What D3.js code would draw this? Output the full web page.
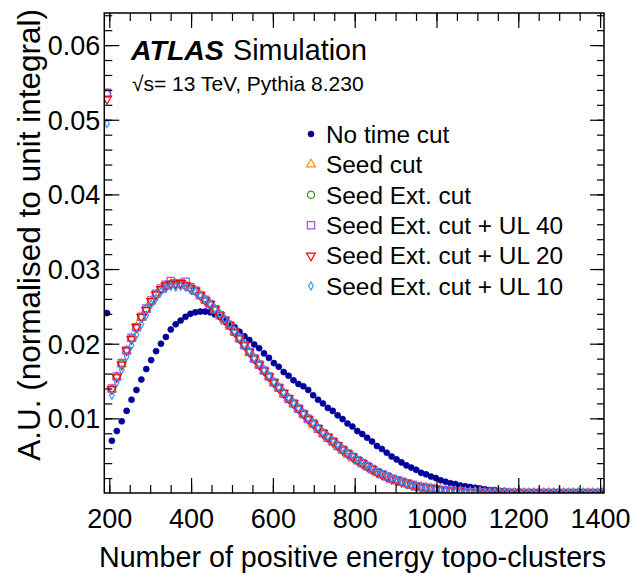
<!DOCTYPE html>
<html>
<head>
<meta charset="utf-8">
<script src="https://cdn.jsdelivr.net/npm/d3@7"></script>
<style>
  html, body { margin: 0; padding: 0; background: #fff; }
  svg { display: block; font-family: "Liberation Sans", Arial, Helvetica, sans-serif; }
</style>
</head>
<body>
<svg id="chart"></svg>
<script>
// ATLAS topo-cluster multiplicity, time-cut comparison

// binning of the histogram (bin centres)
const binStart = 188.4;
const binWidth = 12;

const noTimeCut = [
  0.0241, 0.0070, 0.0083, 0.0096, 0.0110, 0.0125, 0.0138, 0.0152, 0.0166, 0.0178,
  0.0190, 0.0200, 0.0209, 0.0219, 0.0226, 0.0231, 0.0236, 0.0240, 0.0242, 0.0243,
  0.0243, 0.0242, 0.0239, 0.0236, 0.0232, 0.0227, 0.0222, 0.0216, 0.0210, 0.0205,
  0.0199, 0.0194, 0.0187, 0.0181, 0.0174, 0.0169, 0.0162, 0.0157, 0.0151, 0.0146,
  0.0143, 0.0138, 0.0131, 0.0125, 0.0120, 0.0114, 0.0110, 0.0104, 0.0099, 0.0093,
  0.0089, 0.0083, 0.0079, 0.0074, 0.0069, 0.0063, 0.0059, 0.0054, 0.0049, 0.0045,
  0.0041, 0.0037, 0.0034, 0.0031, 0.0027, 0.0025, 0.0022, 0.0020, 0.0017, 0.0015,
  0.0013, 0.0012, 0.0010, 0.0009, 0.0008, 0.0007, 0.0006, 0.0005, 0.0004, 0.0004,
  0.0003, 0.0003, 0.0002, 0.0002, 0.0002, 0.0001, 0.0001, 0.0001, 0.0001, 0.0001,
  0.0001, 0.0000, 0.0000, 0.0000, 0.0000, 0.0000, 0.0000, 0.0000, 0.0000, 0.0000,
  0.0000, 0.0000
];

const seedCut = [
  0.0535, 0.0139, 0.0156, 0.0173, 0.0191, 0.0207, 0.0222, 0.0235, 0.0246, 0.0257,
  0.0266, 0.0273, 0.0277, 0.0280, 0.0280, 0.0280, 0.0278, 0.0275, 0.0270, 0.0265,
  0.0259, 0.0253, 0.0246, 0.0239, 0.0232, 0.0225, 0.0216, 0.0207, 0.0198, 0.0189,
  0.0180, 0.0172, 0.0164, 0.0156, 0.0148, 0.0141, 0.0134, 0.0127, 0.0120, 0.0113,
  0.0106, 0.0099, 0.0093, 0.0087, 0.0080, 0.0075, 0.0069, 0.0064, 0.0058, 0.0053,
  0.0049, 0.0044, 0.0040, 0.0036, 0.0032, 0.0028, 0.0025, 0.0022, 0.0019, 0.0017,
  0.0015, 0.0013, 0.0011, 0.0009, 0.0008, 0.0007, 0.0006, 0.0005, 0.0004, 0.0003,
  0.0003, 0.0002, 0.0002, 0.0001, 0.0001, 0.0001, 0.0001, 0.0000, 0.0000, 0.0000,
  0.0000, 0.0000, 0.0000, 0.0000, 0.0000, 0.0000, 0.0000, 0.0000, 0.0000, 0.0000,
  0.0000, 0.0000, 0.0000, 0.0000, 0.0000, 0.0000, 0.0000, 0.0000, 0.0000, 0.0000,
  0.0000, 0.0000
];

const seedExtCut = [
  0.0535, 0.0139, 0.0155, 0.0173, 0.0190, 0.0207, 0.0221, 0.0235, 0.0246, 0.0256,
  0.0266, 0.0272, 0.0277, 0.0280, 0.0281, 0.0280, 0.0278, 0.0275, 0.0271, 0.0265,
  0.0259, 0.0253, 0.0246, 0.0239, 0.0232, 0.0224, 0.0216, 0.0207, 0.0198, 0.0189,
  0.0181, 0.0172, 0.0164, 0.0156, 0.0148, 0.0141, 0.0134, 0.0127, 0.0120, 0.0113,
  0.0106, 0.0100, 0.0093, 0.0087, 0.0081, 0.0075, 0.0069, 0.0064, 0.0058, 0.0053,
  0.0049, 0.0044, 0.0040, 0.0036, 0.0032, 0.0028, 0.0025, 0.0022, 0.0019, 0.0017,
  0.0015, 0.0013, 0.0011, 0.0009, 0.0008, 0.0007, 0.0006, 0.0005, 0.0004, 0.0003,
  0.0003, 0.0002, 0.0002, 0.0001, 0.0001, 0.0001, 0.0001, 0.0000, 0.0000, 0.0000,
  0.0000, 0.0000, 0.0000, 0.0000, 0.0000, 0.0000, 0.0000, 0.0000, 0.0000, 0.0000,
  0.0000, 0.0000, 0.0000, 0.0000, 0.0000, 0.0000, 0.0000, 0.0000, 0.0000, 0.0000,
  0.0000, 0.0000
];

const seedExtUL40 = [
  0.0536, 0.0140, 0.0156, 0.0174, 0.0191, 0.0208, 0.0222, 0.0236, 0.0247, 0.0258,
  0.0267, 0.0274, 0.0279, 0.0284, 0.0281, 0.0281, 0.0283, 0.0276, 0.0271, 0.0265,
  0.0259, 0.0253, 0.0246, 0.0238, 0.0231, 0.0224, 0.0216, 0.0207, 0.0198, 0.0189,
  0.0180, 0.0172, 0.0164, 0.0156, 0.0148, 0.0141, 0.0133, 0.0126, 0.0120, 0.0113,
  0.0106, 0.0099, 0.0093, 0.0086, 0.0080, 0.0074, 0.0069, 0.0063, 0.0058, 0.0053,
  0.0048, 0.0044, 0.0040, 0.0036, 0.0032, 0.0028, 0.0025, 0.0022, 0.0019, 0.0017,
  0.0015, 0.0013, 0.0011, 0.0009, 0.0008, 0.0007, 0.0006, 0.0005, 0.0004, 0.0003,
  0.0003, 0.0002, 0.0002, 0.0001, 0.0001, 0.0001, 0.0001, 0.0000, 0.0000, 0.0000,
  0.0000, 0.0000, 0.0000, 0.0000, 0.0000, 0.0000, 0.0000, 0.0000, 0.0000, 0.0000,
  0.0000, 0.0000, 0.0000, 0.0000, 0.0000, 0.0000, 0.0000, 0.0000, 0.0000, 0.0000,
  0.0000, 0.0000
];

const seedExtUL20 = [
  0.0528, 0.0139, 0.0155, 0.0172, 0.0191, 0.0206, 0.0222, 0.0236, 0.0245, 0.0257,
  0.0266, 0.0273, 0.0278, 0.0280, 0.0280, 0.0281, 0.0278, 0.0274, 0.0271, 0.0265,
  0.0258, 0.0253, 0.0246, 0.0238, 0.0232, 0.0225, 0.0216, 0.0207, 0.0198, 0.0189,
  0.0180, 0.0172, 0.0164, 0.0156, 0.0148, 0.0141, 0.0134, 0.0127, 0.0120, 0.0113,
  0.0106, 0.0099, 0.0093, 0.0087, 0.0080, 0.0075, 0.0069, 0.0064, 0.0058, 0.0053,
  0.0049, 0.0044, 0.0040, 0.0036, 0.0032, 0.0028, 0.0025, 0.0022, 0.0019, 0.0017,
  0.0015, 0.0013, 0.0011, 0.0009, 0.0008, 0.0007, 0.0006, 0.0005, 0.0004, 0.0003,
  0.0003, 0.0002, 0.0002, 0.0001, 0.0001, 0.0001, 0.0001, 0.0000, 0.0000, 0.0000,
  0.0000, 0.0000, 0.0000, 0.0000, 0.0000, 0.0000, 0.0000, 0.0000, 0.0000, 0.0000,
  0.0000, 0.0000, 0.0000, 0.0000, 0.0000, 0.0000, 0.0000, 0.0000, 0.0000, 0.0000,
  0.0000, 0.0000
];

const seedExtUL10 = [
  0.0495, 0.0131, 0.0148, 0.0165, 0.0183, 0.0198, 0.0212, 0.0226, 0.0238, 0.0253,
  0.0261, 0.0270, 0.0274, 0.0277, 0.0276, 0.0277, 0.0276, 0.0273, 0.0270, 0.0265,
  0.0259, 0.0254, 0.0247, 0.0240, 0.0233, 0.0226, 0.0217, 0.0208, 0.0199, 0.0190,
  0.0181, 0.0173, 0.0165, 0.0157, 0.0149, 0.0142, 0.0135, 0.0128, 0.0121, 0.0114,
  0.0107, 0.0100, 0.0094, 0.0088, 0.0081, 0.0076, 0.0070, 0.0065, 0.0059, 0.0054,
  0.0050, 0.0045, 0.0041, 0.0037, 0.0033, 0.0029, 0.0026, 0.0023, 0.0020, 0.0018,
  0.0015, 0.0013, 0.0011, 0.0010, 0.0008, 0.0007, 0.0006, 0.0005, 0.0004, 0.0003,
  0.0003, 0.0002, 0.0002, 0.0001, 0.0001, 0.0001, 0.0001, 0.0000, 0.0000, 0.0000,
  0.0000, 0.0000, 0.0000, 0.0000, 0.0000, 0.0000, 0.0000, 0.0000, 0.0000, 0.0000,
  0.0000, 0.0000, 0.0000, 0.0000, 0.0000, 0.0000, 0.0000, 0.0000, 0.0000, 0.0000,
  0.0000, 0.0000
];

const seriesNames = [
  "No time cut", "Seed cut", "Seed Ext. cut",
  "Seed Ext. cut + UL 40", "Seed Ext. cut + UL 20", "Seed Ext. cut + UL 10"
];

const xMajorTicks = [200, 400, 600, 800, 1000, 1200, 1400];
const yMajorTicks = [0.01, 0.02, 0.03, 0.04, 0.05, 0.06];

function drawChart() {
  const width = 632;
  const height = 578;
  const plot = { left: 104.3, right: 604, top: 13, bottom: 493 };
  const font = "'Liberation Sans', Arial, Helvetica, sans-serif";

  const svg = d3.select("#chart")
    .attr("width", width)
    .attr("height", height);

  const x = d3.scaleLinear().domain([187.8, 1409.6]).range([plot.left, plot.right]);
  const y = d3.scaleLinear().domain([0, 0.0643]).range([plot.bottom, plot.top]);

  // 系列ごとのマーカー設定
  const styles = [
    { data: noTimeCut,   color: "#000099", type: d3.symbolCircle,   size: 29, fill: true,  rot: 0 },
    { data: seedCut,     color: "#ff8a1c", type: d3.symbolTriangle, size: 34, fill: false, rot: 0 },
    { data: seedExtCut,  color: "#3c9a2c", type: d3.symbolCircle,   size: 42, fill: false, rot: 0 },
    { data: seedExtUL40, color: "#9a55ee", type: d3.symbolSquare,   size: 54, fill: false, rot: 0 },
    { data: seedExtUL20, color: "#ff0000", type: d3.symbolTriangle, size: 34, fill: false, rot: 180 },
    { data: seedExtUL10, color: "#3399ff", type: d3.symbolDiamond,  size: 19, fill: false, rot: 0 }
  ];

  // clip to frame
  svg.append("defs").append("clipPath").attr("id", "frame")
    .append("rect")
    .attr("x", plot.left).attr("y", plot.top - 4)
    .attr("width", plot.right - plot.left).attr("height", plot.bottom - plot.top + 4);

  const marks = svg.append("g").attr("clip-path", "url(#frame)");

  const centres = d3.range(noTimeCut.length).map(i => binStart + binWidth * (i + 0.5));

  styles.forEach(function(s) {
    const sym = d3.symbol().type(s.type).size(s.size);
    marks.append("g")
      .selectAll("path")
      .data(s.data)
      .enter()
      .append("path")
      .attr("d", sym)
      .attr("transform", (d, i) => `translate(${x(centres[i])},${y(d)}) rotate(${s.rot})`)
      .attr("fill", s.fill ? s.color : "none")
      .attr("stroke", s.color)
      .attr("stroke-width", s.fill ? 0.6 : 1.2);
  });

  // axes: major and minor ticks, on all four sides
  const xMinor = d3.range(200, 1401, 50);
  const yMinor = d3.range(0.002, 0.0641, 0.002);

  const axisGroup = svg.append("g");

  axisGroup.append("g")
    .attr("transform", `translate(0,${plot.bottom})`)
    .call(d3.axisBottom(x).tickValues(xMinor).tickSize(-8).tickFormat(""));
  axisGroup.append("g")
    .attr("class", "x-major")
    .attr("transform", `translate(0,${plot.bottom})`)
    .call(d3.axisBottom(x).tickValues(xMajorTicks).tickSize(-15).tickPadding(16).tickFormat(d3.format("d")));
  axisGroup.append("g")
    .attr("transform", `translate(0,${plot.top})`)
    .call(d3.axisTop(x).tickValues(xMinor).tickSize(-8).tickFormat(""));
  axisGroup.append("g")
    .attr("transform", `translate(0,${plot.top})`)
    .call(d3.axisTop(x).tickValues(xMajorTicks).tickSize(-15).tickFormat(""));

  axisGroup.append("g")
    .attr("transform", `translate(${plot.left},0)`)
    .call(d3.axisLeft(y).tickValues(yMinor).tickSize(-8).tickFormat(""));
  axisGroup.append("g")
    .attr("class", "y-major")
    .attr("transform", `translate(${plot.left},0)`)
    .call(d3.axisLeft(y).tickValues(yMajorTicks).tickSize(-15).tickPadding(4).tickFormat(d3.format(".2f")));
  axisGroup.append("g")
    .attr("transform", `translate(${plot.right},0)`)
    .call(d3.axisRight(y).tickValues(yMinor).tickSize(-7).tickFormat(""));
  axisGroup.append("g")
    .attr("transform", `translate(${plot.right},0)`)
    .call(d3.axisRight(y).tickValues(yMajorTicks).tickSize(-14).tickFormat(""));

  axisGroup.selectAll(".domain").remove();
  axisGroup.selectAll(".tick line").attr("stroke", "#000").attr("stroke-width", 1.2);
  axisGroup.selectAll(".tick text")
    .attr("font-family", font)
    .attr("font-size", 27)
    .attr("fill", "#000");
  axisGroup.selectAll(".y-major .tick text").attr("dy", "0.35em");

  svg.append("rect")
    .attr("x", plot.left).attr("y", plot.top)
    .attr("width", plot.right - plot.left).attr("height", plot.bottom - plot.top)
    .attr("fill", "none").attr("stroke", "#000").attr("stroke-width", 1.5);

  // axis titles (right / top aligned)
  svg.append("text")
    .attr("x", plot.right + 2).attr("y", 567)
    .attr("text-anchor", "end")
    .attr("font-family", font).attr("font-size", 28.7)
    .text("Number of positive energy topo-clusters");

  svg.append("text")
    .attr("transform", `translate(40,${plot.top - 4}) rotate(-90)`)
    .attr("text-anchor", "end")
    .attr("font-family", font).attr("font-size", 31.5)
    .text("A.U. (normalised to unit integral)");

  // ATLAS label
  svg.append("text")
    .attr("x", 131).attr("y", 60)
    .attr("font-family", font).attr("font-size", 28.5)
    .attr("font-weight", "bold").attr("font-style", "italic")
    .text("ATLAS");
  svg.append("text")
    .attr("x", 233).attr("y", 60)
    .attr("font-family", font).attr("font-size", 28.7)
    .text("Simulation");
  svg.append("text")
    .attr("x", 132).attr("y", 91)
    .attr("font-family", font).attr("font-size", 21)
    .text("√s= 13 TeV, Pythia 8.230");

  // legend
  const legend = svg.append("g");
  const rowY = d3.range(styles.length).map(i => 134 + 30.4 * i);
  styles.forEach(function(s, i) {
    const sym = d3.symbol().type(s.type).size(s.size);
    legend.append("path")
      .attr("d", sym)
      .attr("transform", `translate(311,${rowY[i]}) rotate(${s.rot})`)
      .attr("fill", s.fill ? s.color : "none")
      .attr("stroke", s.color)
      .attr("stroke-width", s.fill ? 0.6 : 1.2);
    legend.append("text")
      .attr("x", 326).attr("y", rowY[i] + 8.7)
      .attr("font-family", font).attr("font-size", 24.4)
      .text(seriesNames[i]);
  });
}

if (typeof d3 !== "undefined") {
  drawChart();
} else {
  console.error("D3.js is not loaded");
}
</script>
</body>
</html>
